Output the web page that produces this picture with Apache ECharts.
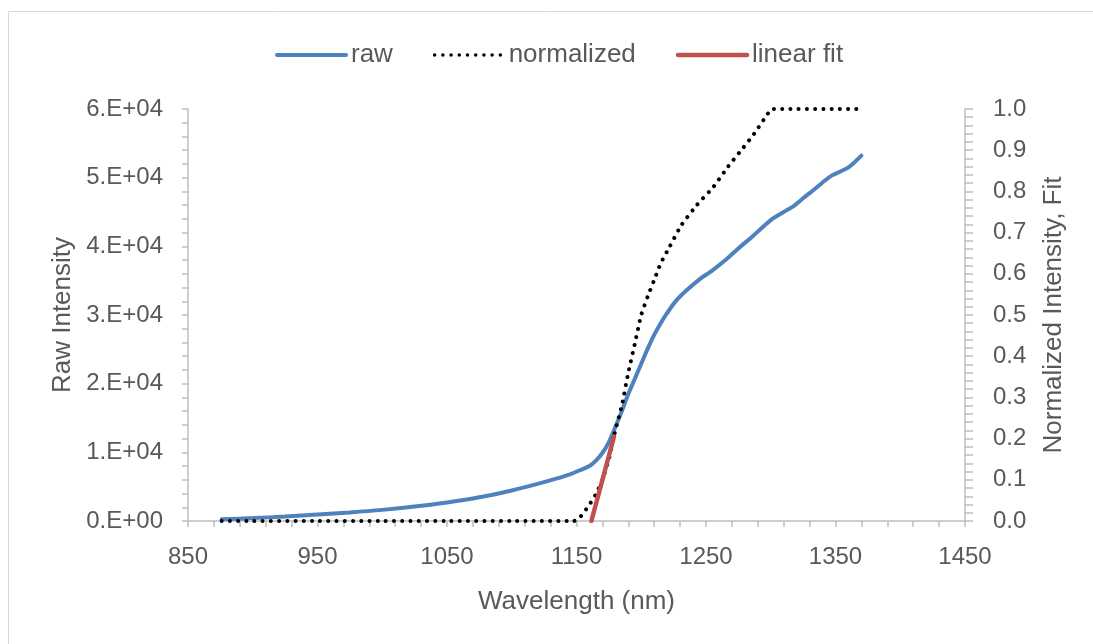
<!DOCTYPE html>
<html>
<head>
<meta charset="utf-8">
<script src="https://cdn.jsdelivr.net/npm/echarts@6/dist/echarts.min.js"></script>
<style>
  html, body { margin: 0; padding: 0; background: #ffffff; }
  #chart { width: 1093px; height: 644px; }
</style>
</head>
<body>
<div id="chart"></div>
<script>
// ---- data (wavelength in nm) ----
const X0 = 850;  // left end of the wavelength axis
const xTickLabels = ['850', '950', '1050', '1150', '1250', '1350', '1450'];
const yLeftTickLabels = ['0.E+00', '1.E+04', '2.E+04', '3.E+04', '4.E+04', '5.E+04', '6.E+04'];
const yRightTickLabels = ['0.0', '0.1', '0.2', '0.3', '0.4', '0.5', '0.6', '0.7', '0.8', '0.9', '1.0'];

const rawWl = [876, 900, 925, 950, 975, 1000, 1025, 1050, 1075, 1100, 1120, 1135, 1145, 1152,
  1160, 1165, 1170, 1175, 1180, 1185, 1190, 1195, 1200, 1205, 1210, 1215, 1220, 1227,
  1235, 1245, 1255, 1265, 1275, 1285, 1295, 1302, 1310, 1318, 1325, 1333, 1340, 1347,
  1355, 1360, 1365, 1370];
const rawVal = [250, 420, 650, 950, 1250, 1620, 2100, 2700, 3450, 4450, 5400, 6200, 6800, 7350,
  8000, 8800, 9900, 11500, 13700, 16000, 18500, 20700, 22900, 25100, 27100, 28800, 30300, 32100,
  33600, 35200, 36500, 38000, 39700, 41300, 43000, 44100, 45000, 45900, 47000, 48200, 49300, 50300,
  51000, 51500, 52300, 53200];

const normWl = [876, 900, 950, 1000, 1050, 1100, 1148, 1152, 1156, 1160, 1165, 1170, 1175, 1180,
  1185, 1190, 1195, 1200, 1205, 1210, 1215, 1222, 1231, 1243, 1256, 1267, 1279, 1287, 1297,
  1301, 1367];
const normVal = [0, 0, 0, 0, 0, 0, 0, 0.007, 0.022, 0.04, 0.065, 0.10, 0.15, 0.22,
  0.28, 0.36, 0.43, 0.50, 0.545, 0.585, 0.625, 0.666, 0.718, 0.767, 0.812, 0.860, 0.907, 0.939, 0.985,
  1.0, 1.0];

const fitWl = [1161.5, 1179];
const fitVal = [0, 0.205];

// ---- build ----
const pairs = (xs, ys) => xs.map((x, i) => [x - X0, ys[i]]);
const FONT = 'Liberation Sans';
const TXT = '#595959';
const AX = '#BFBFBF';
const BLUE = '#4F81BD', RED = '#C0504D', BLACK = '#000000';
const DOTS = [0.01, 8.2];

const chart = echarts.init(document.getElementById('chart'), null, { renderer: 'canvas' });
chart.setOption({
  animation: false,
  backgroundColor: '#ffffff',
  textStyle: { fontFamily: FONT, color: TXT },
  graphic: [
    { type: 'line', shape: { x1: 8.5, y1: 11.5, x2: 1093, y2: 11.5 }, style: { stroke: '#D9D9D9', lineWidth: 1 } },
    { type: 'line', shape: { x1: 8.5, y1: 11.5, x2: 8.5, y2: 644 }, style: { stroke: '#D9D9D9', lineWidth: 1 } }
  ],
  legend: {
    left: 270,
    top: 37,
    itemWidth: 69,
    itemHeight: 14,
    itemGap: 40,
    itemStyle: { opacity: 0 },
    textStyle: { fontFamily: FONT, fontSize: 26, color: TXT },
    data: [
      { name: 'raw', lineStyle: { color: BLUE, width: 4, cap: 'round' } },
      { name: 'normalized', lineStyle: { color: BLACK, width: 3.5, type: DOTS, cap: 'round' } },
      { name: 'linear fit', lineStyle: { color: RED, width: 4.5, cap: 'round' } }
    ]
  },
  grid: { left: 188, right: 128, top: 109, bottom: 123, containLabel: false },
  xAxis: {
    type: 'value',
    min: 0, max: 600, interval: 100,
    name: 'Wavelength (nm)',
    nameLocation: 'middle',
    nameGap: 68,
    nameTextStyle: { fontFamily: FONT, fontSize: 26, color: TXT },
    axisLine: { show: true, lineStyle: { color: AX, width: 1.5 } },
    axisTick: { show: true, length: 6, lineStyle: { color: AX, width: 1.5 } },
    minorTick: { show: true, splitNumber: 5, length: 6, lineStyle: { color: AX, width: 1.5 } },
    splitLine: { show: false },
    axisLabel: { fontFamily: FONT, fontSize: 24, color: TXT, margin: 24,
      formatter: v => xTickLabels[Math.round(v / 100)] }
  },
  yAxis: [
    {
      type: 'value', position: 'left',
      min: 0, max: 60000, interval: 10000,
      name: 'Raw Intensity',
      nameLocation: 'middle',
      nameGap: 112,
      nameTextStyle: { fontFamily: FONT, fontSize: 26, color: TXT },
      axisLine: { show: true, lineStyle: { color: AX, width: 1.5 } },
      axisTick: { show: true, length: 6, lineStyle: { color: AX, width: 1.5 } },
      minorTick: { show: true, splitNumber: 5, length: 6, lineStyle: { color: AX, width: 1.5 } },
      splitLine: { show: false },
      axisLabel: { fontFamily: FONT, fontSize: 24, color: TXT, margin: 25,
        formatter: v => yLeftTickLabels[Math.round(v / 10000)] }
    },
    {
      type: 'value', position: 'right',
      min: 0, max: 1, interval: 0.1,
      name: 'Normalized Intensity, Fit',
      nameLocation: 'middle',
      nameGap: 76,
      nameRotate: 90,
      nameTextStyle: { fontFamily: FONT, fontSize: 26, color: TXT },
      axisLine: { show: true, lineStyle: { color: AX, width: 1.5 } },
      axisTick: { show: true, length: 8, lineStyle: { color: AX, width: 1.5 } },
      minorTick: { show: true, splitNumber: 5, length: 8, lineStyle: { color: AX, width: 1.5 } },
      splitLine: { show: false },
      axisLabel: { fontFamily: FONT, fontSize: 24, color: TXT, margin: 28,
        formatter: v => yRightTickLabels[Math.round(v * 10)] }
    }
  ],
  series: [
    {
      name: 'raw', type: 'line', yAxisIndex: 0,
      data: pairs(rawWl, rawVal),
      symbol: 'none', smooth: 0.3,
      itemStyle: { color: BLUE },
      lineStyle: { color: BLUE, width: 4, cap: 'round' },
      z: 2
    },
    {
      name: 'normalized', type: 'line', yAxisIndex: 1,
      data: pairs(normWl, normVal),
      symbol: 'none', smooth: 0.2,
      itemStyle: { color: BLACK },
      lineStyle: { color: BLACK, width: 4, type: DOTS, cap: 'round' },
      z: 3
    },
    {
      name: 'linear fit', type: 'line', yAxisIndex: 1,
      data: pairs(fitWl, fitVal),
      symbol: 'none',
      itemStyle: { color: RED },
      lineStyle: { color: RED, width: 4.5, cap: 'round' },
      z: 4
    }
  ]
});
</script>
</body>
</html>
